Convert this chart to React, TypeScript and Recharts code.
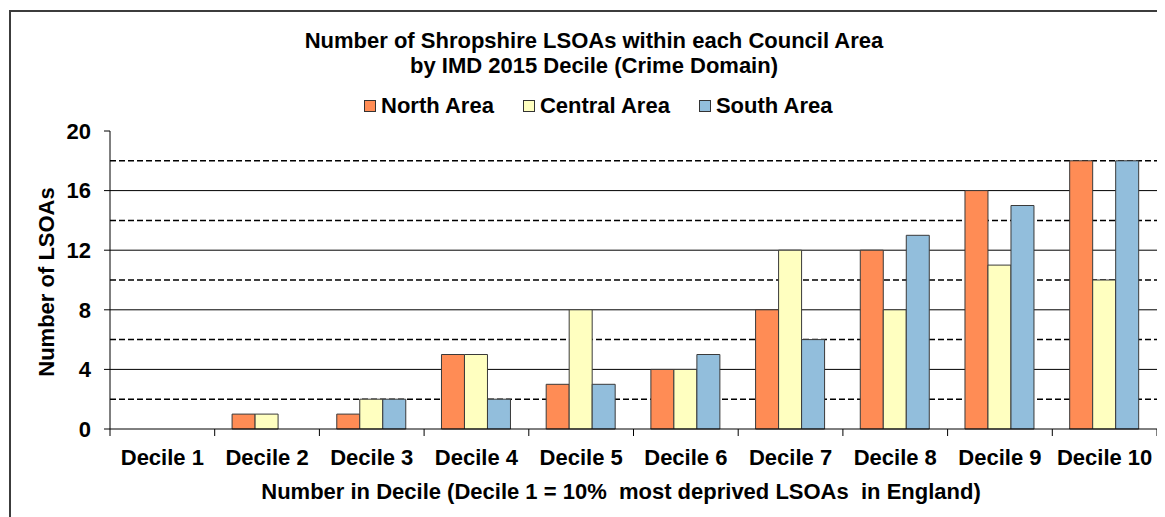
import { BarChart, Bar, XAxis, YAxis, CartesianGrid, Legend } from "recharts";

const deciles = [
  "Decile 1",
  "Decile 2",
  "Decile 3",
  "Decile 4",
  "Decile 5",
  "Decile 6",
  "Decile 7",
  "Decile 8",
  "Decile 9",
  "Decile 10",
];
const north = [0, 1, 1, 5, 3, 4, 8, 12, 16, 18];
const central = [0, 1, 2, 5, 8, 4, 12, 8, 11, 10];
const south = [0, 0, 2, 2, 3, 5, 6, 13, 15, 18];

const yTicks = [0, 4, 8, 12, 16, 20];
const solidLines = [4, 8, 12, 16];
const dashedLines = [2, 6, 10, 14, 18];

const series = [
  { key: "north", name: "North Area", color: "#FF8C55" },
  { key: "central", name: "Central Area", color: "#FFFFC0" },
  { key: "south", name: "South Area", color: "#92BEDC" },
];

const data = deciles.map((decile, i) => ({
  decile,
  north: north[i],
  central: central[i],
  south: south[i],
}));

const FONT = "'Liberation Sans', Arial, sans-serif";
const textStyle = { fontFamily: FONT, fontWeight: 700, fontSize: 22, color: "#000" };

const LegendRow = () => (
  <div style={{ ...textStyle, display: "flex", alignItems: "center", lineHeight: "22px" }}>
    {series.map((s) => (
      <div key={s.key} style={{ display: "flex", alignItems: "center", marginRight: 29 }}>
        <span
          style={{
            width: 12,
            height: 12,
            boxSizing: "border-box",
            background: s.color,
            border: "1px solid #333",
            marginRight: 5,
          }}
        />
        <span>{s.name}</span>
      </div>
    ))}
  </div>
);

// category label plus tick marks on the band edges (Excel style)
const DecileTick = (props: any) => {
  const { x, y, payload, index, visibleTicksCount } = props;
  const half = payload.offset ?? 0;
  const isLast = index === visibleTicksCount - 1;
  return (
    <g>
      <line x1={x - half} x2={x - half} y1={y} y2={y + 7} stroke="#000" />
      {isLast && <line x1={x + half} x2={x + half} y1={y} y2={y + 7} stroke="#000" />}
      <text
        x={x}
        y={y + 20}
        dy="0.71em"
        textAnchor="middle"
        fill="#000"
        style={{ fontFamily: FONT, fontWeight: 700, fontSize: 22 }}
      >
        {payload.value}
      </text>
    </g>
  );
};

export default function App() {
  return (
    <div style={{ position: "relative", width: 1157, height: 509, overflow: "hidden", background: "#fff" }}>
      {/* outer frame, runs off the right and bottom edges */}
      <div
        style={{
          position: "absolute",
          left: 1,
          top: 2,
          width: 1300,
          height: 700,
          border: "2px solid #3c3c3c",
          boxSizing: "border-box",
        }}
      />
      <div
        style={{
          ...textStyle,
          position: "absolute",
          left: 186,
          top: 20,
          width: 800,
          textAlign: "center",
          lineHeight: "25px",
        }}
      >
        Number of Shropshire LSOAs within each Council Area
        <br />
        by IMD 2015 Decile (Crime Domain)
      </div>
      <div
        style={{
          ...textStyle,
          position: "absolute",
          left: 113,
          top: 473,
          width: 1000,
          textAlign: "center",
          lineHeight: "22px",
          whiteSpace: "pre",
        }}
      >
        {"Number in Decile (Decile 1 = 10%  most deprived LSOAs  in England)"}
      </div>
      <div
        style={{
          ...textStyle,
          position: "absolute",
          left: 39 - 150,
          top: 274 - 11,
          width: 300,
          textAlign: "center",
          lineHeight: "22px",
          transform: "rotate(-90deg)",
        }}
      >
        Number of LSOAs
      </div>
      <div style={{ position: "absolute", left: 0, top: 0 }}>
        <BarChart
          width={1157}
          height={509}
          data={data}
          margin={{ top: 123, right: 8, left: 0, bottom: 28 }}
          barCategoryGap="16.6%"
          barGap={0}
        >
          <CartesianGrid vertical={false} horizontalValues={solidLines} stroke="#000" strokeWidth={1} />
          <CartesianGrid
            vertical={false}
            horizontalValues={dashedLines}
            stroke="#000"
            strokeWidth={1.5}
            strokeDasharray="6 3"
          />
          <XAxis
            dataKey="decile"
            height={60}
            axisLine={{ stroke: "#000" }}
            tickLine={false}
            tickSize={0}
            tickMargin={0}
            interval={0}
            tick={<DecileTick />}
          />
          <YAxis
            width={102}
            domain={[0, 20]}
            ticks={yTicks}
            tickSize={6}
            tickMargin={13}
            axisLine={{ stroke: "#000" }}
            tickLine={{ stroke: "#000" }}
            tick={{ fill: "#000", fontSize: 22, fontWeight: 700, fontFamily: FONT }}
          />
          <Legend
            layout="horizontal"
            verticalAlign="middle"
            align="center"
            wrapperStyle={{ top: 87, left: 356, width: 600, height: 22 }}
            content={() => <LegendRow />}
          />
          {series.map((s) => (
            <Bar
              key={s.key}
              dataKey={s.key}
              name={s.name}
              fill={s.color}
              stroke="#3a3a3a"
              strokeWidth={1}
              isAnimationActive={false}
            />
          ))}
        </BarChart>
      </div>
    </div>
  );
}
